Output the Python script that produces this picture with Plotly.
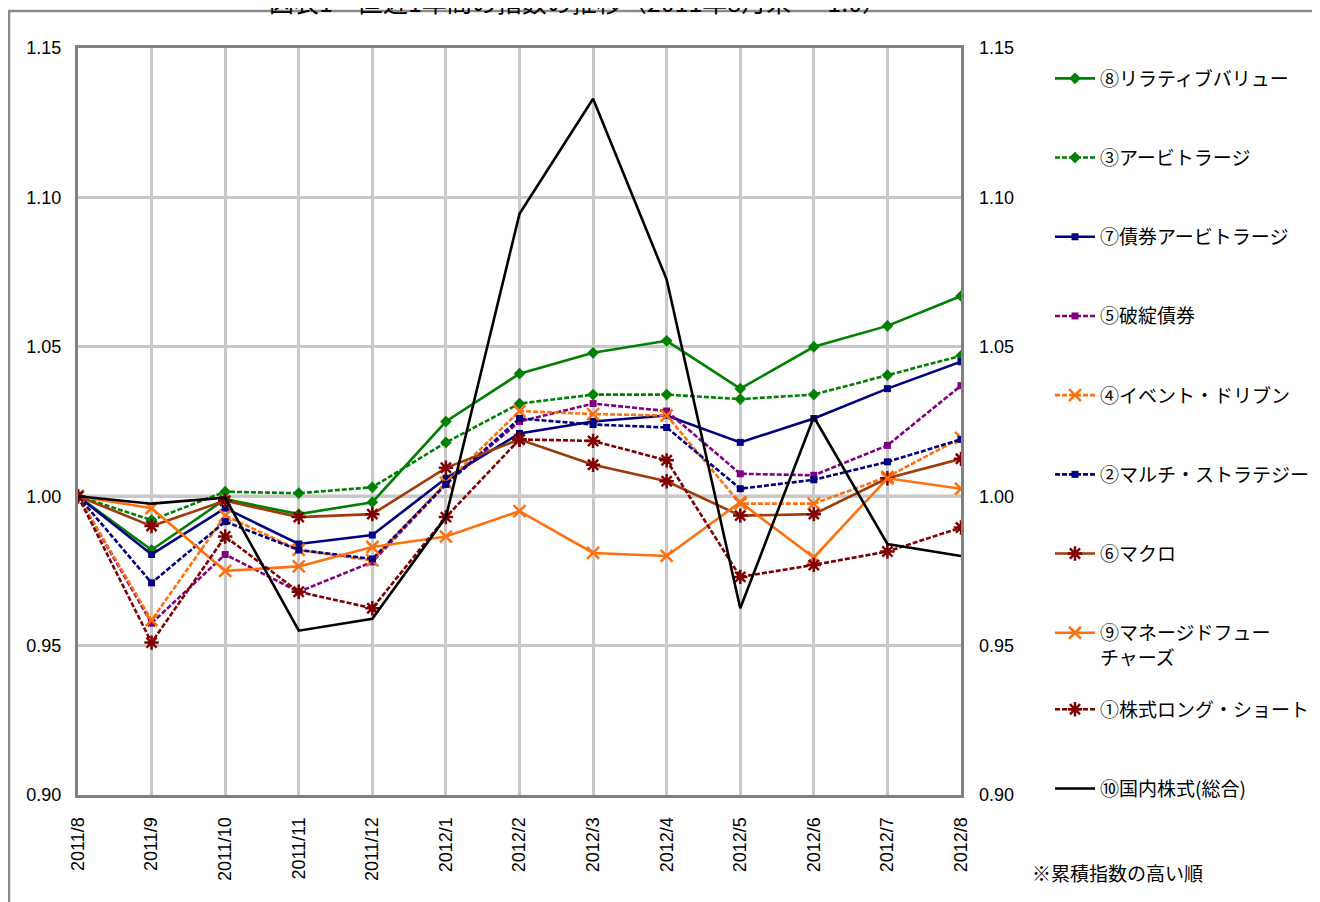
import plotly.graph_objects as go

months = ["2011/8", "2011/9", "2011/10", "2011/11", "2011/12", "2012/1", "2012/2",
          "2012/3", "2012/4", "2012/5", "2012/6", "2012/7", "2012/8"]

rv8 = [1.000, 0.982, 0.999, 0.994, 0.998, 1.025, 1.041, 1.048, 1.052, 1.036, 1.050, 1.057, 1.067]
arb3 = [1.000, 0.992, 1.0015, 1.001, 1.003, 1.018, 1.031, 1.034, 1.034, 1.0325, 1.034, 1.0405, 1.047]
bond7 = [1.000, 0.9805, 0.996, 0.984, 0.987, 1.006, 1.021, 1.025, 1.027, 1.018, 1.026, 1.036, 1.045]
dist5 = [1.000, 0.9575, 0.9805, 0.968, 0.978, 1.004, 1.025, 1.031, 1.0285, 1.0075, 1.007, 1.017, 1.037]
event4 = [1.000, 0.9585, 0.9935, 0.982, 0.9785, 1.0045, 1.0285, 1.0275, 1.027, 0.9975, 0.9975, 1.0065, 1.0195]
multi2 = [1.000, 0.971, 0.9915, 0.982, 0.979, 1.004, 1.026, 1.024, 1.023, 1.0025, 1.0055, 1.0115, 1.019]
macro6 = [1.000, 0.990, 0.9985, 0.993, 0.994, 1.0095, 1.019, 1.0105, 1.005, 0.9935, 0.994, 1.006, 1.0125]
mf9 = [1.000, 0.996, 0.975, 0.9765, 0.983, 0.9865, 0.995, 0.981, 0.980, 0.998, 0.9795, 1.006, 1.0025]
ls1 = [1.000, 0.951, 0.9865, 0.968, 0.9625, 0.993, 1.019, 1.0185, 1.012, 0.973, 0.977, 0.9815, 0.9895]
topix10 = [1.000, 0.9975, 0.9995, 0.955, 0.959, 0.993, 1.0945, 1.133, 1.0725, 0.9625, 1.0265, 0.984, 0.980]

names = ["⑧リラティブバリュー", "③アービトラージ", "⑦債券アービトラージ", "⑤破綻債券",
         "④イベント・ドリブン", "②マルチ・ストラテジー", "⑥マクロ",
         "⑨マネージドフュー<br>チャーズ", "①株式ロング・ショート", "⑩国内株式(総合)"]
tick_vals = [0.90, 0.95, 1.00, 1.05, 1.10, 1.15]
note = "※累積指数の高い順"
title = "図表1　直近1年間の指数の推移（2011年8月末 ＝ 1.0）"

GREEN = "#008000"
NAVY = "#000080"
PURPLE = "#800080"
ORANGE = "#FF7010"
BROWN = "#9E3B0B"
DRED = "#800000"
DASH = "5px,2px"

# page body has an 8px margin: figure coords = screen coords - 8
W, H = 1312, 894
L, R, T, B = 70, 1312 - 953, 40, 894 - 787
PW, PH = 883, 747

series = [
    (rv8, names[0], GREEN, "solid", "diamond", 9, GREEN, "legend"),
    (arb3, names[1], GREEN, DASH, "diamond", 9, GREEN, "legend"),
    (bond7, names[2], NAVY, "solid", "square", 7, NAVY, "legend"),
    (dist5, names[3], PURPLE, DASH, "square", 7, PURPLE, "legend"),
    (event4, names[4], ORANGE, DASH, "x-thin", 12, ORANGE, "legend"),
    (multi2, names[5], NAVY, DASH, "square", 7, NAVY, "legend"),
    (macro6, names[6], BROWN, "solid", "asterisk", 12, DRED, "legend"),
    (mf9, names[7], ORANGE, "solid", "x-thin", 12, ORANGE, "legend"),
    (ls1, names[8], DRED, DASH, "asterisk", 12, DRED, "legend2"),
]

fig = go.Figure()

for i, (data, nm, col, dash, sym, sz, mcol, lg) in enumerate(series):
    line_sym = sym in ("x-thin", "asterisk")
    fig.add_trace(go.Scatter(
        x=months, y=data, name=nm, mode="lines+markers",
        line=dict(color=col, width=2.6, dash=dash),
        marker=dict(symbol=sym, size=sz, color=mcol,
                    line=dict(color=mcol, width=2.5 if line_sym else 0)),
        legend=lg, legendgroup=nm, legendrank=i + 1,
    ))

fig.add_trace(go.Scatter(
    x=months, y=topix10, name=names[9], mode="lines",
    line=dict(color="#000000", width=2.6),
    legend="legend2", legendgroup=names[9], legendrank=10,
))

# invisible trace on the right axis so that right tick labels are shown
fig.add_trace(go.Scatter(x=months, y=topix10, yaxis="y2", mode="lines",
                         line=dict(width=0), showlegend=False, hoverinfo="skip",
                         opacity=0))

num_font = dict(family="Liberation Sans, Arial, sans-serif", size=18, color="#000000")
leg_font = dict(family="Noto Sans CJK JP, sans-serif", size=19, color="#000000")
title_font = dict(family="Noto Sans CJK JP, sans-serif", size=25, color="#000000")

fig.update_layout(
    width=W, height=H,
    margin=dict(l=L, r=R, t=T, b=B),
    paper_bgcolor="#FFFFFF", plot_bgcolor="#FFFFFF",
    showlegend=True,
    xaxis=dict(
        type="category", range=[0, 12], tickangle=-90,
        showgrid=True, gridcolor="#C8C8C8", gridwidth=2.5,
        showline=True, linecolor="#808080", linewidth=3, mirror=True,
        ticks="", tickfont=num_font, ticklabelstandoff=12,
    ),
    yaxis=dict(
        range=[0.90, 1.15], tickvals=tick_vals, tickformat=".2f",
        showgrid=True, gridcolor="#C8C8C8", gridwidth=2.5,
        showline=True, linecolor="#808080", linewidth=3, mirror=True,
        ticks="", tickfont=num_font, ticklabelstandoff=10, zeroline=False,
    ),
    yaxis2=dict(
        range=[0.90, 1.15], tickvals=tick_vals, tickformat=".2f",
        overlaying="y", side="right", showgrid=False, showline=False,
        ticks="", tickfont=num_font, ticklabelstandoff=17, zeroline=False,
    ),
    legend=dict(
        xref="container", yref="container", x=1042 / W, y=1 - 51.5 / H,
        xanchor="left", yanchor="top", font=leg_font,
        tracegroupgap=51.5, bgcolor="rgba(0,0,0,0)", valign="top",
        itemwidth=40, maxheight=880,
    ),
    legend2=dict(
        xref="container", yref="container", x=1042 / W, y=1 - 682.4 / H,
        xanchor="left", yanchor="top", font=leg_font,
        tracegroupgap=51.5, bgcolor="rgba(0,0,0,0)", valign="top",
        itemwidth=40, maxheight=300,
    ),
    shapes=[
        dict(type="line", xref="paper", yref="y", x0=0, x1=1, y0=1.0, y1=1.0,
             line=dict(color="#808080", width=3), layer="below"),
        dict(type="rect", xref="paper", yref="paper",
             x0=(1 - L) / PW, x1=(1330 - L) / PW,
             y0=(787 - 910) / PH, y1=(787 - 3) / PH,
             line=dict(color="#8C8C8C", width=2.5), fillcolor="rgba(0,0,0,0)",
             layer="below"),
    ],
    annotations=[
        dict(text=note, xref="paper", yref="paper",
             x=(1022 - L) / PW, y=(787 - 864) / PH, xanchor="left", yanchor="middle",
             showarrow=False, font=leg_font),
        dict(text=title, xref="paper", yref="paper",
             x=(570 - L) / PW, y=1, xanchor="center", yanchor="middle",
             yshift=T + 7, showarrow=False, font=title_font),
    ],
)

fig.write_html("out.html")
